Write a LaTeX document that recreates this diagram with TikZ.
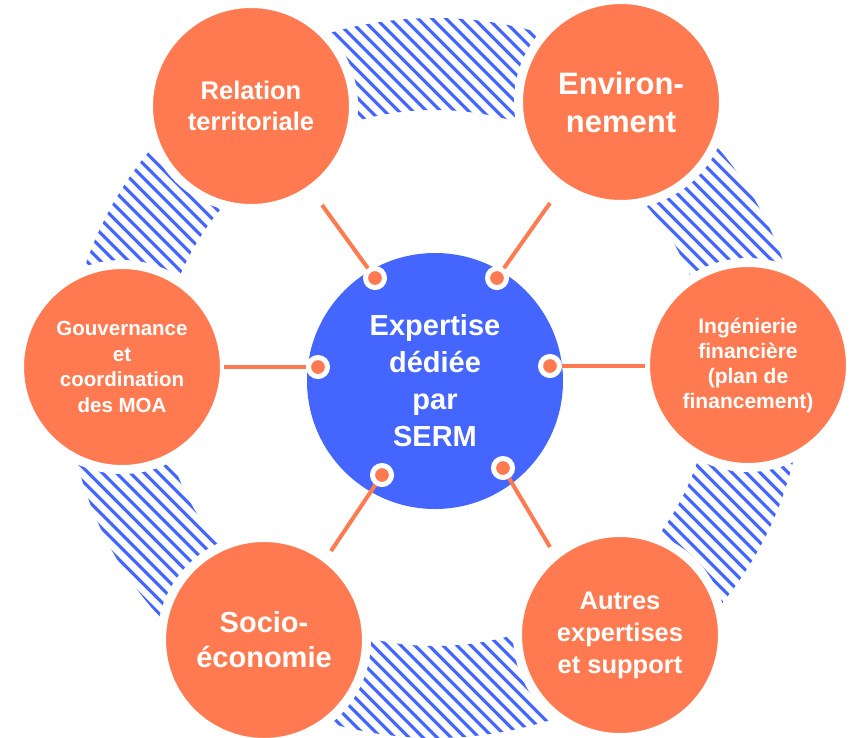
\documentclass[tikz,border=0pt]{standalone}
\usepackage{fontspec}
\setmainfont{Liberation Sans}
\usetikzlibrary{patterns.meta}
\definecolor{serm}{RGB}{255,122,80}
\definecolor{sermblue}{RGB}{68,102,255}

\begin{document}
\begin{tikzpicture}[
  x=1pt, y=-1pt,
  pole/.style={circle, fill=serm, draw=white, line width=9pt, minimum size=205pt, inner sep=0pt, align=center, text=white},
  hub/.style={circle, fill=sermblue, minimum size=256pt, inner sep=0pt, align=center, text=white,
    font=\fontsize{29}{37}\selectfont\bfseries},
  pin/.style={circle, fill=serm, draw=white, line width=5pt, minimum size=19pt, inner sep=0pt},
  spoke/.style={draw=serm, line width=4pt}
]
\useasboundingbox (0,0) rectangle (859,737);
\coordinate (ring) at (435,378);
\pattern[even odd rule, pattern={Lines[angle=-45, distance=10.5pt, line width=3.6pt]}, pattern color=sermblue]
  (ring) ellipse [x radius=368pt, y radius=360pt] (ring) ellipse [x radius=276pt, y radius=268pt];

\node[pole, font=\fontsize{25.5}{31}\selectfont\bfseries] (rel) at (251,106) {Relation\\territoriale};
\node[pole, font=\fontsize{31}{38}\selectfont\bfseries] (env) at (621,102) {Environ-\\nement};
\node[pole, font=\fontsize{20.5}{25.5}\selectfont\bfseries] (gov) at (122,367) {Gouvernance\\et\\coordination\\des MOA};
\node[pole, font=\fontsize{21}{25}\selectfont\bfseries] (ing) at (748,365) {Ingénierie\\financière\\(plan de\\financement)};
\node[pole, font=\fontsize{29}{35}\selectfont\bfseries] (soc) at (264,640) {Socio-\\économie};
\node[pole, font=\fontsize{25.5}{32}\selectfont\bfseries] (aut) at (620,635) {Autres\\expertises\\et support};

\node[hub] (serm) at (435,381) {Expertise\\dédiée\\par\\SERM};

\node[pin] (pRel) at (375,278) {};
\node[pin] (pEnv) at (497,278) {};
\node[pin] (pGov) at (318,367) {};
\node[pin] (pIng) at (550,366) {};
\node[pin] (pSoc) at (382,475) {};
\node[pin] (pAut) at (503,468) {};

\coordinate (relEnd) at (322,205);
\coordinate (envEnd) at (550,203);
\coordinate (govEnd) at (224,367);
\coordinate (ingEnd) at (645,366);
\coordinate (socEnd) at (331,551);
\coordinate (autEnd) at (550,547);

\draw[spoke] (pRel) -- (relEnd);
\draw[spoke] (pEnv) -- (envEnd);
\draw[spoke] (pGov) -- (govEnd);
\draw[spoke] (pIng) -- (ingEnd);
\draw[spoke] (pSoc) -- (socEnd);
\draw[spoke] (pAut) -- (autEnd);
\end{tikzpicture}
\end{document}
